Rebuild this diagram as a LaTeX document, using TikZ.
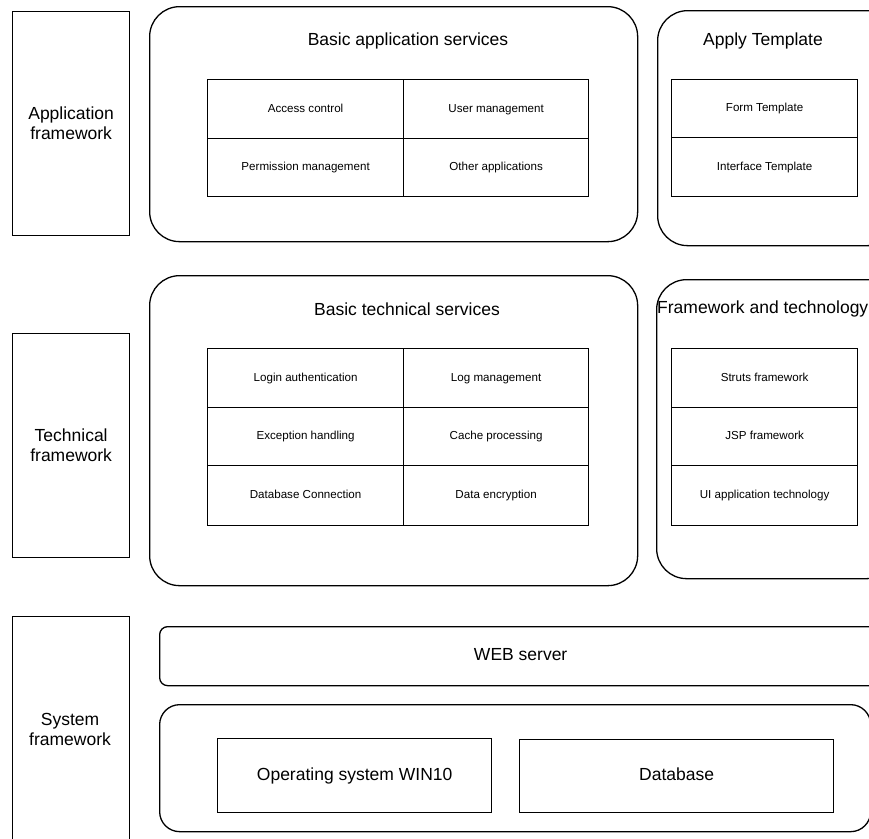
\documentclass[tikz,border=0pt]{standalone}
\usepackage{fontspec}
\setmainfont{Liberation Sans}
\begin{document}
\begin{tikzpicture}[x=1pt,y=-1pt,
  box/.style={draw, line width=1.3pt, anchor=north west, inner sep=0pt},
  sidebox/.style={box, minimum width=117pt, minimum height=224pt, align=center, font=\fontsize{17.5}{20}\selectfont},
  group/.style={box, rounded corners=30pt},
  cell/.style={box, line width=1.2pt, font=\fontsize{11.6}{14}\selectfont, text height=8.4pt, text depth=2.4pt},
  lcell/.style={cell, minimum width=196pt, minimum height=59pt},
  rcell/.style={cell, minimum width=185pt, minimum height=59pt},
  tcell/.style={cell, minimum width=186pt, minimum height=59pt},
  title/.style={font=\fontsize{17.5}{20}\selectfont, inner sep=0pt},
  big/.style={box, font=\fontsize{17.5}{20}\selectfont, text height=12.6pt, text depth=3.6pt}]
\useasboundingbox (0,0) rectangle (869,838);
\clip (0,0) rectangle (869,838);
% left column
\node[sidebox] (appfw) at (12,11) {Application\\framework};
\node[sidebox] (techfw) at (12,333) {Technical\\framework};
\node[sidebox, minimum height=250pt] (sysfw) at (12,616) {};
\node[title, align=center] (systxt) at (70,729) {System\\framework};
% basic application services
\node[group, minimum width=488pt, minimum height=235pt] (bas) at (149,6) {};
\node[title] (bastitle) at (408,41) {Basic application services};
\node[lcell] (c11) at (207,79) {Access control};
\node[rcell] (c12) at (403,79) {User management};
\node[lcell, minimum height=58pt] (c21) at (207,138) {Permission management};
\node[rcell, minimum height=58pt] (c22) at (403,138) {Other applications};
% apply template
\node[group, minimum width=240pt, minimum height=235pt] (apt) at (657,10) {};
\node[title] (apttitle) at (763,41) {Apply Template};
\node[tcell, minimum height=58pt] (t1) at (671,79) {Form Template};
\node[tcell] (t2) at (671,137) {Interface Template};
% basic technical services
\node[group, minimum width=488pt, minimum height=310pt] (bts) at (149,275) {};
\node[title] (btstitle) at (407,309) {Basic technical services};
\node[lcell] (d11) at (207,348) {Login authentication};
\node[rcell] (d12) at (403,348) {Log management};
\node[lcell, minimum height=58pt] (d21) at (207,407) {Exception handling};
\node[rcell, minimum height=58pt] (d22) at (403,407) {Cache processing};
\node[lcell, minimum height=60pt] (d31) at (207,465) {Database Connection};
\node[rcell, minimum height=60pt] (d32) at (403,465) {Data encryption};
% framework and technology
\node[group, minimum width=240pt, minimum height=299pt] (fat) at (656,279) {};
\node[title, anchor=west] (fattitle) at (657,309) {Framework and technology};
\node[tcell] (f1) at (671,348) {Struts framework};
\node[tcell, minimum height=58pt] (f2) at (671,407) {JSP framework};
\node[tcell, minimum height=60pt] (f3) at (671,465) {UI application technology};
% system framework
\node[big, rounded corners=8pt, minimum width=722pt, minimum height=59pt] (web) at (159,626) {WEB server};
\node[box, rounded corners=20pt, minimum width=711pt, minimum height=127pt] (sysbox) at (159,704) {};
\node[big, minimum width=274pt, minimum height=74pt] (os) at (217,738) {Operating system WIN10};
\node[big, minimum width=314pt, minimum height=73pt] (db) at (519,739) {Database};
\end{tikzpicture}
\end{document}
